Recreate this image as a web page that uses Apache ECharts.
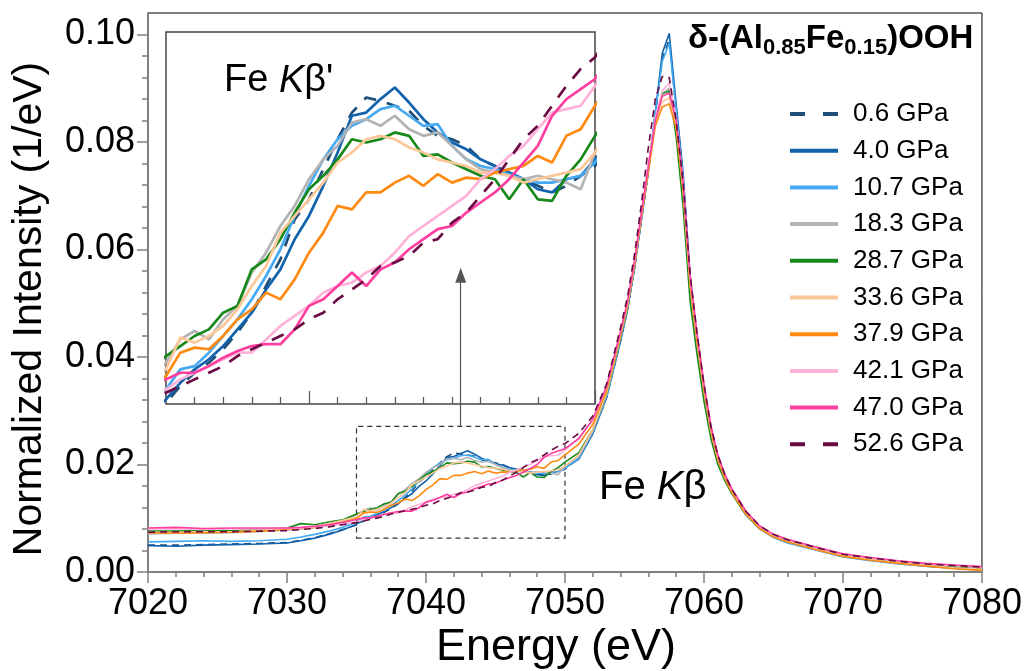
<!DOCTYPE html>
<html>
<head>
<meta charset="utf-8">
<script src="https://cdn.jsdelivr.net/npm/echarts@6/dist/echarts.min.js"></script>
<style>
html,body{margin:0;padding:0;background:#fff;}
#chart{width:1025px;height:671px;}
</style>
</head>
<body>
<div id="chart"></div>
<script>
// energies (eV)
var energy = [7020,7022,7024,7026,7028,7030,7031,7032,7033,7034,
  7035,7035.5,7036,7036.5,7037,7037.5,7038,7038.5,7039,7039.5,7040,7040.5,7041,7041.5,7042,7042.5,7043,7043.5,7044,7044.5,7045,7045.5,7046,7046.5,7047,7047.5,7048,7048.5,7049,7049.5,7050,
  7051,7052,7053,7054,7054.5,7055,7055.5,7056,7056.5,7057,7057.5,7058,7058.5,7059,7059.5,7060,7060.5,7061,7061.5,7062,7063,7064,7065,7066,7068,7070,7072,7074,7076,7078,7080];

var p0_6 = [0.0050,0.0050,0.0051,0.0052,0.0053,0.0055,0.0059,0.0064,0.0071,0.0079,
  0.00875,0.00949,0.01007,0.01051,0.01110,0.01183,0.01270,0.01387,0.01504,0.01679,0.01767,0.01899,0.02030,0.02147,0.02213,0.02198,0.02177,0.02155,0.02089,0.02045,0.02030,0.02001,0.01942,0.01913,0.01884,0.01855,0.01826,0.01797,0.01826,0.01870,0.01913,
  0.0212,0.0258,0.0325,0.0430,0.0488,0.0565,0.0655,0.0745,0.0850,0.0955,0.0990,0.0860,0.0735,0.0550,0.0430,0.0337,0.0260,0.0208,0.0175,0.0149,0.0109,0.0082,0.0066,0.0057,0.0043,0.0030,0.0023,0.0016,0.0012,0.0008,0.0005];
var p4_0 = [0.0049,0.0048,0.0050,0.0051,0.0052,0.0054,0.0058,0.0063,0.0070,0.0078,
  0.00890,0.00963,0.01022,0.01066,0.01124,0.01197,0.01270,0.01372,0.01460,0.01592,0.01694,0.01826,0.01972,0.02133,0.02147,0.02206,0.02257,0.02191,0.02118,0.02060,0.02016,0.01986,0.01942,0.01913,0.01884,0.01855,0.01811,0.01797,0.01855,0.01870,0.01942,
  0.0210,0.0257,0.0325,0.0430,0.0488,0.0565,0.0655,0.0745,0.0855,0.0965,0.1002,0.0870,0.0742,0.0552,0.0432,0.0338,0.0260,0.0207,0.0174,0.0148,0.0108,0.0081,0.0065,0.0056,0.0042,0.0029,0.0022,0.0016,0.0011,0.0007,0.0004];
var p10_7 = [0.0056,0.0057,0.0058,0.0057,0.0058,0.0061,0.0065,0.0070,0.0076,0.0083,
  0.00934,0.01022,0.01036,0.01095,0.01168,0.01241,0.01329,0.01431,0.01548,0.01694,0.01826,0.01942,0.02030,0.02089,0.02118,0.02162,0.02177,0.02133,0.02089,0.02096,0.02001,0.01942,0.01913,0.01899,0.01877,0.01855,0.01840,0.01840,0.01855,0.01870,0.01928,
  0.0212,0.0260,0.0328,0.0433,0.0490,0.0567,0.0658,0.0750,0.0855,0.0950,0.0984,0.0860,0.0730,0.0545,0.0428,0.0335,0.0258,0.0206,0.0173,0.0147,0.0107,0.0080,0.0064,0.0054,0.0041,0.0028,0.0021,0.0015,0.0011,0.0007,0.0004];
var p18_3 = [0.0071,0.0072,0.0072,0.0073,0.0075,0.0078,0.0080,0.0083,0.0088,0.0095,
  0.01051,0.01153,0.01190,0.01153,0.01241,0.01300,0.01446,0.01533,0.01650,0.01738,0.01855,0.01942,0.02001,0.02103,0.02118,0.02089,0.02133,0.02074,0.02045,0.02060,0.02001,0.01942,0.01899,0.01884,0.01870,0.01855,0.01870,0.01855,0.01840,0.01811,0.01972,
  0.0215,0.0262,0.0330,0.0437,0.0493,0.0570,0.0662,0.0755,0.0840,0.0890,0.0900,0.0830,0.0705,0.0530,0.0425,0.0336,0.0261,0.0209,0.0176,0.0150,0.0110,0.0083,0.0067,0.0058,0.0044,0.0031,0.0024,0.0018,0.0013,0.0009,0.0006];
var p28_7 = [0.0076,0.0076,0.0077,0.0077,0.0079,0.0082,0.0090,0.0088,0.0093,0.0097,
  0.01080,0.01124,0.01168,0.01197,0.01270,0.01300,0.01460,0.01504,0.01592,0.01709,0.01811,0.01870,0.01942,0.02030,0.02016,0.02030,0.02060,0.02045,0.01957,0.01964,0.01928,0.01899,0.01870,0.01855,0.01767,0.01855,0.01767,0.01760,0.01870,0.01942,0.02045,
  0.0222,0.0265,0.0332,0.0437,0.0492,0.0568,0.0660,0.0750,0.0840,0.0890,0.0895,0.0810,0.0680,0.0505,0.0405,0.0318,0.0248,0.0200,0.0170,0.0146,0.0107,0.0081,0.0066,0.0057,0.0043,0.0030,0.0023,0.0017,0.0012,0.0009,0.0005];
var p33_6 = [0.0074,0.0074,0.0075,0.0075,0.0077,0.0080,0.0082,0.0085,0.0090,0.0096,
  0.01022,0.01161,0.01139,0.01168,0.01212,0.01285,0.01387,0.01475,0.01621,0.01694,0.01767,0.01840,0.01928,0.01972,0.02030,0.02045,0.02030,0.01994,0.01972,0.01942,0.01928,0.01913,0.01884,0.01884,0.01870,0.01840,0.01855,0.01870,0.01884,0.01899,0.01972,
  0.0218,0.0265,0.0333,0.0440,0.0495,0.0570,0.0662,0.0750,0.0835,0.0875,0.0882,0.0830,0.0710,0.0535,0.0428,0.0337,0.0261,0.0209,0.0175,0.0149,0.0109,0.0082,0.0066,0.0057,0.0043,0.0030,0.0023,0.0017,0.0012,0.0008,0.0005];
var p37_9 = [0.0073,0.0072,0.0073,0.0074,0.0076,0.0079,0.0081,0.0083,0.0087,0.0093,
  0.00993,0.01095,0.01117,0.01110,0.01168,0.01241,0.01285,0.01358,0.01329,0.01416,0.01533,0.01621,0.01738,0.01723,0.01797,0.01797,0.01840,0.01870,0.01826,0.01877,0.01840,0.01862,0.01855,0.01884,0.01899,0.01913,0.01957,0.01928,0.02045,0.02074,0.02177,
  0.0238,0.0275,0.0338,0.0442,0.0497,0.0572,0.0662,0.0745,0.0830,0.0865,0.0871,0.0825,0.0710,0.0535,0.0430,0.0338,0.0262,0.0209,0.0175,0.0148,0.0108,0.0081,0.0065,0.0056,0.0042,0.0029,0.0022,0.0016,0.0011,0.0006,0.0003];
var p42_1 = [0.0080,0.0080,0.0079,0.0080,0.0080,0.0081,0.0082,0.0084,0.0086,0.0089,
  0.00934,0.00978,0.01007,0.01036,0.01066,0.01095,0.01095,0.01153,0.01212,0.01256,0.01300,0.01358,0.01387,0.01402,0.01446,0.01475,0.01533,0.01606,0.01650,0.01694,0.01738,0.01782,0.01855,0.01899,0.01957,0.02001,0.02074,0.02147,0.02162,0.02177,0.02264,
  0.0250,0.0283,0.0345,0.0447,0.0502,0.0578,0.0670,0.0760,0.0845,0.0895,0.0910,0.0845,0.0725,0.0550,0.0443,0.0348,0.0270,0.0216,0.0181,0.0154,0.0113,0.0085,0.0069,0.0060,0.0046,0.0033,0.0026,0.0020,0.0015,0.0012,0.0009];
var p47_0 = [0.0082,0.0083,0.0081,0.0082,0.0082,0.0082,0.0083,0.0085,0.0088,0.0092,
  0.00978,0.01007,0.01007,0.01036,0.01073,0.01102,0.01124,0.01132,0.01132,0.01197,0.01300,0.01329,0.01387,0.01446,0.01387,0.01460,0.01490,0.01548,0.01592,0.01636,0.01650,0.01709,0.01753,0.01797,0.01855,0.01928,0.02001,0.02133,0.02206,0.02250,0.02294,
  0.0248,0.0284,0.0346,0.0448,0.0503,0.0578,0.0668,0.0755,0.0840,0.0885,0.0891,0.0840,0.0725,0.0552,0.0445,0.0350,0.0272,0.0218,0.0182,0.0155,0.0114,0.0086,0.0070,0.0061,0.0047,0.0034,0.0027,0.0021,0.0016,0.0013,0.0010];
var p52_6 = [0.0074,0.0075,0.0075,0.0075,0.0076,0.0077,0.0079,0.0081,0.0084,0.0088,
  0.00919,0.00949,0.00978,0.01007,0.01036,0.01080,0.01110,0.01139,0.01168,0.01197,0.01241,0.01270,0.01329,0.01372,0.01416,0.01475,0.01490,0.01519,0.01577,0.01592,0.01665,0.01709,0.01782,0.01855,0.01942,0.02030,0.02089,0.02177,0.02264,0.02338,0.02389,
  0.0258,0.0290,0.0350,0.0455,0.0512,0.0590,0.0685,0.0790,0.0880,0.0922,0.0920,0.0840,0.0725,0.0555,0.0444,0.0349,0.0271,0.0217,0.0181,0.0154,0.0113,0.0086,0.0070,0.0060,0.0046,0.0033,0.0026,0.0020,0.0015,0.0012,0.0009];

var names = ['0.6 GPa','4.0 GPa','10.7 GPa','18.3 GPa','28.7 GPa','33.6 GPa','37.9 GPa','42.1 GPa','47.0 GPa','52.6 GPa'];
var values = [p0_6,p4_0,p10_7,p18_3,p28_7,p33_6,p37_9,p42_1,p47_0,p52_6];
var colors = ['#1f4e79','#1262ac','#45aaf2','#b3b3b3','#17891a','#fcc89a','#ff8a12','#ffb2d9','#ff3fa0','#6a0b44'];
var dashed = [true,false,false,false,false,false,false,false,false,true];

var yMajor = [0,0.02,0.04,0.06,0.08,0.10];
var yMinor = [0.004,0.008,0.012,0.016,0.024,0.028,0.032,0.036,0.044,0.048,0.052,0.056,0.064,0.068,0.072,0.076,0.084,0.088,0.092,0.096];
var insetMajor = [7040,7050];
var insetMinor = [7036,7037,7038,7039,7041,7042,7043,7044,7045,7046,7047,7048,7049];

// zoom box and arrow (main axes units)
var boxFrom = [7035,0.0063], boxTo = [7050,0.0271];
var arrowFrom = [7042.5,0.0271], arrowTo = [7042.5,0.0552];

var FONT = "'Liberation Sans', Arial, sans-serif";
var GRAY = '#808080';

var chart = echarts.init(document.getElementById('chart'));

var series = [];
// legend keys (first series of each name is used by the legend)
names.forEach(function (n, i) {
  series.push({
    name: n, type: 'line', xAxisIndex: 0, yAxisIndex: 0, data: [], symbol: 'none', silent: true,
    lineStyle: { color: colors[i], width: 4, type: dashed[i] ? [15, 18] : 'solid' },
    itemStyle: { color: colors[i] }
  });
});
values.forEach(function (v, i) {
  var s = {
    name: names[i], type: 'line', xAxisIndex: 0, yAxisIndex: 0,
    data: energy.map(function (e, j) { return [e, v[j]]; }),
    symbol: 'none', silent: true,
    lineStyle: { color: colors[i], width: 1.6, type: dashed[i] ? [7, 5] : 'solid' },
    itemStyle: { color: colors[i] }
  };
  if (i === 0) {
    s.markArea = {
      silent: true,
      itemStyle: { color: 'rgba(0,0,0,0)', borderColor: '#333', borderWidth: 1.2, borderType: [5, 4] },
      data: [[{ coord: boxFrom }, { coord: boxTo }]]
    };
    s.markLine = {
      silent: true, symbol: ['none', 'triangle'], symbolSize: [11, 15],
      label: { show: false },
      lineStyle: { color: '#555', width: 1.2, type: 'solid' },
      data: [[{ coord: arrowFrom }, { coord: arrowTo }]]
    };
  }
  series.push(s);
});
values.forEach(function (v, i) {
  series.push({
    name: names[i], type: 'line', xAxisIndex: 1, yAxisIndex: 2,
    data: energy.map(function (e, j) { return [e, v[j]]; }),
    symbol: 'none', silent: true, clip: true,
    lineStyle: { color: colors[i], width: 2.7, type: dashed[i] ? [13, 11] : 'solid' },
    itemStyle: { color: colors[i] }
  });
});

chart.setOption({
  animation: false,
  backgroundColor: '#fff',
  grid: [
    { left: 148, top: 13, width: 840, height: 559, show: true, borderColor: '#000', borderWidth: 1, backgroundColor: 'rgba(0,0,0,0)' },
    { left: 166, top: 32, width: 429, height: 372, show: true, borderColor: '#444', borderWidth: 1.5, backgroundColor: '#fff' }
  ],
  xAxis: [
    {
      gridIndex: 0, type: 'value', min: 7020, max: 7080, interval: 10,
      axisLine: { lineStyle: { color: GRAY, width: 2 } },
      axisTick: { length: 11, lineStyle: { color: GRAY, width: 1.5 } },
      minorTick: { show: true, splitNumber: 5, length: 5, lineStyle: { color: GRAY, width: 1.5 } },
      axisLabel: { fontSize: 36, color: '#000', fontFamily: FONT, margin: 14, formatter: function (v) { return String(v); } },
      splitLine: { show: false }
    },
    {
      gridIndex: 1, type: 'value', min: 7035, max: 7050,
      axisLine: { show: false },
      axisTick: { show: true, inside: true, length: 13, customValues: insetMajor, lineStyle: { color: '#555', width: 1.2 } },
      axisLabel: { show: false, customValues: insetMajor },
      splitLine: { show: false }
    },
    {
      gridIndex: 1, type: 'value', min: 7035, max: 7050, position: 'bottom',
      axisLine: { show: false },
      axisTick: { show: true, inside: true, length: 7, customValues: insetMinor, lineStyle: { color: '#555', width: 1.2 } },
      axisLabel: { show: false, customValues: insetMinor },
      splitLine: { show: false }
    }
  ],
  yAxis: [
    {
      gridIndex: 0, type: 'value', min: 0, max: 0.104,
      axisLine: { show: true, lineStyle: { color: GRAY, width: 2 } },
      axisTick: { show: true, length: 11, customValues: yMajor, lineStyle: { color: GRAY, width: 1.5 } },
      axisLabel: {
        customValues: yMajor, fontSize: 36, color: '#000', fontFamily: FONT, margin: 13,
        formatter: function (v) { return v.toFixed(2); }
      },
      splitLine: { show: false }
    },
    {
      gridIndex: 0, type: 'value', min: 0, max: 0.104, position: 'left',
      axisLine: { show: false },
      axisTick: { show: true, length: 6, customValues: yMinor, lineStyle: { color: GRAY, width: 1.5 } },
      axisLabel: { show: false, customValues: yMinor },
      splitLine: { show: false }
    },
    {
      gridIndex: 1, type: 'value', min: 0.0087, max: 0.0250,
      axisLine: { show: false }, axisTick: { show: false }, axisLabel: { show: false },
      splitLine: { show: false }
    }
  ],
  legend: {
    orient: 'vertical', left: 783, top: 96,
    itemWidth: 48, itemHeight: 14, itemGap: 10.7,
    selectedMode: false,
    itemStyle: { opacity: 0 },
    lineStyle: { width: 4 },
    textStyle: { fontSize: 26, color: '#000', fontFamily: FONT, lineHeight: 26, padding: [0, 0, 0, 10] },
    data: names
  },
  graphic: [
    {
      type: 'text', x: 30, y: 309, rotation: Math.PI / 2, z: 100,
      style: { text: 'Normalized Intensity (1/eV)', fontSize: 41, fontFamily: FONT, fill: '#000', align: 'center', verticalAlign: 'middle' }
    },
    {
      type: 'text', x: 556, y: 648, z: 100,
      style: { text: 'Energy (eV)', fontSize: 45, fontFamily: FONT, fill: '#000', align: 'center', verticalAlign: 'middle' }
    },
    {
      type: 'text', x: 599, y: 488, z: 100,
      style: {
        text: '{n|Fe }{i|K}{n|β}', align: 'left', verticalAlign: 'middle', fill: '#000',
        rich: { n: { fontSize: 40, fontFamily: FONT }, i: { fontSize: 40, fontFamily: FONT, fontStyle: 'italic' } }
      }
    },
    {
      type: 'text', x: 224, y: 81, z: 100,
      style: {
        text: "{n|Fe }{i|K}{n|β'}", align: 'left', verticalAlign: 'middle', fill: '#000',
        rich: { n: { fontSize: 38, fontFamily: FONT }, i: { fontSize: 38, fontFamily: FONT, fontStyle: 'italic' } }
      }
    },
    {
      type: 'text', x: 688, y: 39, z: 100,
      style: {
        text: '{b|δ-(Al}{s|0.85}{b|Fe}{s|0.15}{b|)OOH}', align: 'left', verticalAlign: 'middle', fill: '#000',
        rich: {
          b: { fontSize: 33, fontWeight: 'bold', fontFamily: FONT, lineHeight: 40, verticalAlign: 'middle' },
          s: { fontSize: 22, fontWeight: 'bold', fontFamily: FONT, lineHeight: 18, verticalAlign: 'bottom' }
        }
      }
    }
  ],
  series: series
});
</script>
</body>
</html>
